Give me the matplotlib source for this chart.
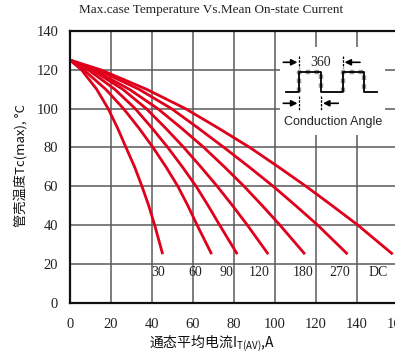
import matplotlib
matplotlib.use("Agg")
import matplotlib.pyplot as plt

# case temperature levels (degC) where the curves were read
temps = [125, 120, 110, 100, 90, 80, 70, 60, 50, 40, 25]

# mean on-state current (A) for each conduction angle, read at the temps above
curves = {
    "30":  [0, 5.6, 13.0, 18.6, 23.2, 27.3, 31.5, 35.1, 38.4, 41.3, 45.2],
    "60":  [0, 6.7, 17.4, 26.1, 33.6, 40.5, 46.8, 52.6, 57.5, 62.0, 69.1],
    "90":  [0, 8.9, 21.8, 31.8, 40.0, 47.7, 54.8, 61.5, 67.4, 73.0, 81.6],
    "120": [0, 10.6, 25.7, 37.2, 46.6, 55.5, 63.8, 71.8, 79.3, 86.5, 96.7],
    "180": [0, 11.4, 28.9, 42.8, 54.3, 65.3, 75.3, 84.9, 93.8, 102.4, 114.6],
    "270": [0, 13.4, 33.6, 49.5, 62.5, 75.1, 87.3, 99.1, 110.1, 120.8, 135.4],
    "DC":  [0, 15.0, 37.3, 56.3, 72.3, 87.7, 101.6, 115.1, 127.9, 140.4, 157.4],
}
# where the curve names sit
label_x = [43.1, 61.3, 76.1, 92.3, 113.8, 131.7, 150.4]
label_y = 15.8

xticks = [0, 20, 40, 60, 80, 100, 120, 140, 160]
yticks = [0, 20, 40, 60, 80, 100, 120, 140]

W, H = 395, 356
fig = plt.figure(figsize=(W / 100, H / 100), dpi=100)
ax = fig.add_axes([70 / W, 53.3 / H, 328 / W, 271.7 / H])

red = "#e0001b"
for name, xs in curves.items():
    ax.plot(xs, temps, color=red, lw=2, solid_capstyle="butt")
for name, lx in zip(curves.keys(), label_x):
    ax.text(lx, label_y, name, ha="center", va="center",
            family="Liberation Serif", fontsize=10, color="#222222")

ax.set_xlim(0, 160)
ax.set_ylim(0, 140)
ax.set_xticks(xticks)
ax.set_yticks(yticks)
ax.grid(True, color="#5a5a5a", lw=1.1)
ax.set_axisbelow(True)
ax.tick_params(length=0, labelsize=10.5, colors="#222222")
ax.tick_params(axis="x", pad=11)
ax.tick_params(axis="y", pad=8.5)
for lab in ax.get_xticklabels() + ax.get_yticklabels():
    lab.set_family("Liberation Serif")
for s in ["left", "bottom", "top"]:
    ax.spines[s].set_linewidth(1.6)
    ax.spines[s].set_color("#111111")
ax.spines["right"].set_visible(False)

fig.text(211 / W, 1 - 10 / H, "Max.case Temperature Vs.Mean On-state Current",
         ha="center", va="center", family="Liberation Serif", fontsize=9.5,
         color="#222222")
fig.text(212 / W, 1 - 343 / H, "通态平均电流I$_{\\mathregular{T(AV)}}$,A",
         ha="center", va="center", family=["Noto Sans CJK SC", "DejaVu Sans"],
         fontsize=10, color="#111111")
fig.text(21 / W, 1 - 165 / H, "管壳温度Tc(max), °C", rotation=90,
         ha="center", va="center", family=["Noto Sans CJK SC", "DejaVu Sans"],
         fontsize=9.5, color="#111111")

# conduction angle sketch, drawn in pixel units of its own box
box = (280, 47, 385, 135)
ins = fig.add_axes([box[0] / W, 1 - box[3] / H, (box[2] - box[0]) / W,
                    (box[3] - box[1]) / H])
ins.set_xlim(box[0], box[2])
ins.set_ylim(box[3], box[1])
ins.set_facecolor("white")
for s in ins.spines.values():
    s.set_visible(False)
ins.set_xticks([])
ins.set_yticks([])

lo, hi = 92.3, 71.7
e1, e2, e3, e4 = 299.3, 321, 342.7, 364.3
for a, b in ((e1, e2), (e3, e4)):
    ins.plot([a, a, b, b], [lo, hi, hi, lo], color="#9a9a9a", lw=3.2,
             ls=(0, (1, 1)))
wx = [286, e1, e1, e2, e2, e3, e3, e4, e4, 376.7]
wy = [lo, lo, hi, hi, lo, lo, hi, hi, lo, lo]
ins.plot(wx, wy, color="black", lw=1.3)

for x0 in (e1, e3):
    ins.plot([x0, x0], [56, 68], color="black", lw=0.9, ls=(0, (2, 1)))
for x0 in (e1, e2):
    ins.plot([x0, x0], [96, 110], color="black", lw=0.9, ls=(0, (2, 1)))

arrow = dict(arrowstyle="-|>", color="black", lw=1.2, mutation_scale=9,
             shrinkA=0, shrinkB=0)
ins.annotate("", xy=(297.5, 62.3), xytext=(283.3, 62.3), arrowprops=arrow)
ins.annotate("", xy=(344.5, 62.3), xytext=(360, 62.3), arrowprops=arrow)
ins.annotate("", xy=(297.5, 103.3), xytext=(283.3, 103.3), arrowprops=arrow)
ins.annotate("", xy=(323, 103.3), xytext=(338.3, 103.3), arrowprops=arrow)
ins.text(321, 62.5, "360", ha="center", va="center",
         family="Liberation Serif", fontsize=10, color="#222222")
ins.text(333, 122, "Conduction Angle", ha="center", va="center",
         family="Liberation Sans", fontsize=9, color="#222222")

fig.savefig("out.png", dpi=100)
